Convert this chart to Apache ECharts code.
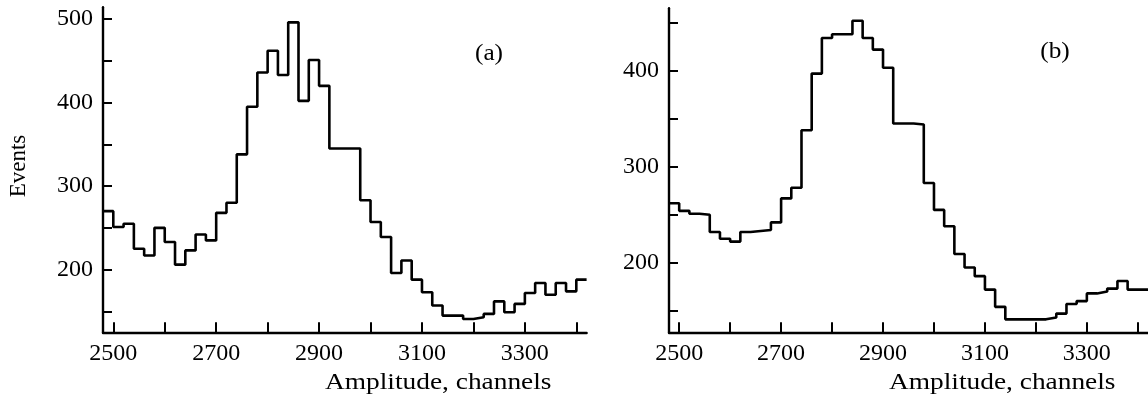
<!DOCTYPE html>
<html>
<head>
<meta charset="utf-8">
<script src="https://cdn.jsdelivr.net/npm/echarts@6/dist/echarts.min.js"></script>
<style>
html,body{margin:0;padding:0;background:#fff;}
#chart{width:1148px;height:398px;}
</style>
</head>
<body>
<div id="chart"></div>
<script>
// Histogram bins: start channel and width
const binStart = 2480;
const binWidth = 20;
// Panel (a) counts per bin (2480..3400)
const countsA = [270, 251, 255, 225, 217, 250, 233, 206, 223, 242, 235, 268, 280, 338, 395, 436, 462, 433, 496, 402, 451, 420, 345, 345, 345, 283, 257, 239, 196, 211, 188, 173, 157, 145, 145, 141, 143, 147, 162, 149, 159, 172, 184, 170, 184, 174, 188];
// Panel (b) counts per bin (2480..3400)
const countsB = [262, 254, 251, 250, 232, 225, 222, 232, 233, 234, 242, 267, 278, 338, 397, 434, 438, 438, 452, 434, 422, 403, 345, 345, 344, 283, 255, 238, 209, 195, 186, 172, 154, 141, 141, 141, 141, 143, 147, 157, 160, 168, 170, 173, 181, 172, 172];
// Axis ticks and labels
const xTicks = [2500, 2600, 2700, 2800, 2900, 3000, 3100, 3200, 3300, 3400];
const xLabels = [2500, 2700, 2900, 3100, 3300];
const yTicksA = [150, 200, 250, 300, 350, 400, 450, 500];
const yLabelsA = [200, 300, 400, 500];
const yTicksB = [150, 200, 250, 300, 350, 400, 450];
const yLabelsB = [200, 300, 400];
const xTitle = 'Amplitude, channels';
const yTitle = 'Events';
const panelTags = ['(a)', '(b)'];

function steps(counts) {
  const pts = counts.map((v, i) => [binStart + i * binWidth, v]);
  pts.push([binStart + counts.length * binWidth, counts[counts.length - 1]]);
  return pts;
}

const FONT = 'Liberation Serif';
const axisLineStyle = {color: '#000', width: 2.4};
const plain = v => String(v);

function xAxis(gi) {
  return {
    gridIndex: gi, type: 'value', min: 2480, max: 3420,
    axisLine: {show: true, onZero: false, lineStyle: axisLineStyle},
    axisTick: {show: true, inside: true, length: 10, customValues: xTicks, lineStyle: {color: '#000', width: 2}},
    axisLabel: {customValues: xLabels, formatter: plain, color: '#000', fontFamily: FONT, fontSize: 24, margin: 9},
    splitLine: {show: false}
  };
}
function yAxis(gi, min, max, ticks, labels) {
  return {
    gridIndex: gi, type: 'value', min: min, max: max,
    axisLine: {show: true, onZero: false, lineStyle: axisLineStyle},
    axisTick: {show: true, inside: true, length: 9, customValues: ticks, lineStyle: {color: '#000', width: 2}},
    axisLabel: {customValues: labels, formatter: plain, color: '#000', fontFamily: FONT, fontSize: 24, margin: 10},
    splitLine: {show: false}
  };
}

const txt = (t) => ({text: t, font: '23px "Liberation Serif"', fill: '#000'});

const chart = echarts.init(document.getElementById('chart'), null, {renderer: 'canvas'});
chart.setOption({
  animation: false,
  backgroundColor: '#fff',
  grid: [
    {left: 103, top: 7.3, width: 483.6, height: 325},
    {left: 669, top: 8.3, width: 483.7, height: 324}
  ],
  xAxis: [xAxis(0), xAxis(1)],
  yAxis: [yAxis(0, 125, 514, yTicksA, yLabelsA), yAxis(1, 127.5, 465, yTicksB, yLabelsB)],
  series: [
    {type: 'line', xAxisIndex: 0, yAxisIndex: 0, step: 'end', symbol: 'none', data: steps(countsA),
     lineStyle: {color: '#000', width: 2.6}},
    {type: 'line', xAxisIndex: 1, yAxisIndex: 1, step: 'end', symbol: 'none', data: steps(countsB),
     lineStyle: {color: '#000', width: 2.6}}
  ],
  graphic: [
    {type: 'text', x: 325, y: 371, scaleX: 1.19, style: txt(xTitle)},
    {type: 'text', x: 889, y: 371, scaleX: 1.19, style: txt(xTitle)},
    {type: 'text', x: 19, y: 166, rotation: Math.PI / 2, style: Object.assign(txt(yTitle), {align: 'center', verticalAlign: 'middle'})},
    {type: 'text', x: 489, y: 54, scaleX: 1.1, style: Object.assign(txt(panelTags[0]), {align: 'center', verticalAlign: 'middle'})},
    {type: 'text', x: 1055, y: 52, scaleX: 1.1, style: Object.assign(txt(panelTags[1]), {align: 'center', verticalAlign: 'middle'})}
  ]
});
</script>
</body>
</html>
